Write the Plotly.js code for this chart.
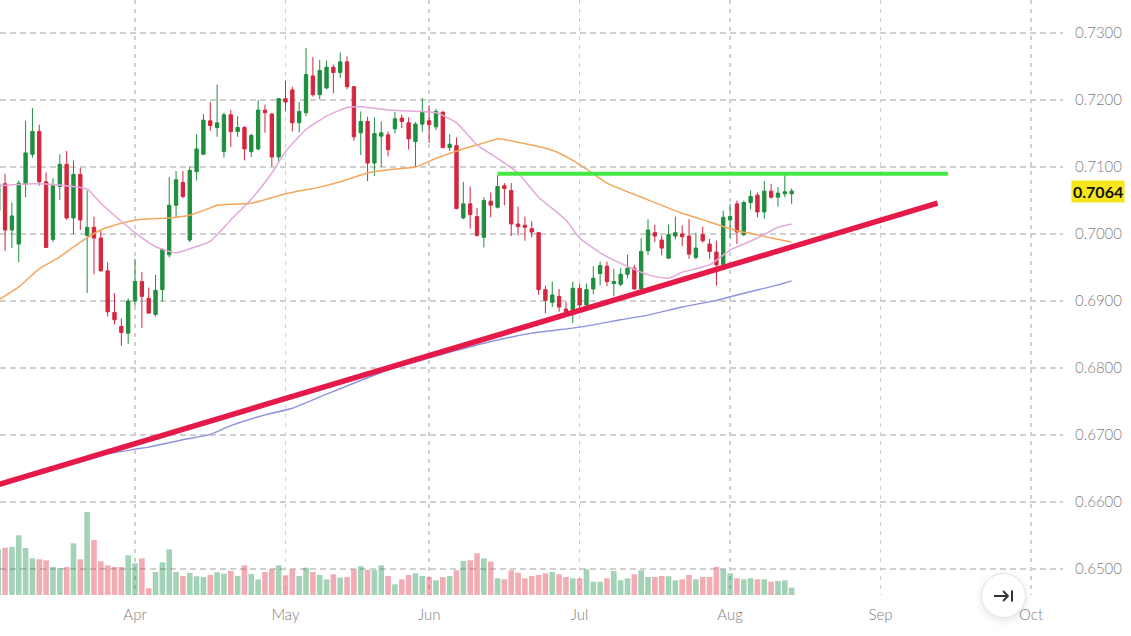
<!DOCTYPE html>
<html>
<head>
<meta charset="utf-8">
<script src="https://cdn.plot.ly/plotly-3.0.1.min.js"></script>
<style>
  html, body { margin: 0; padding: 0; background: #fff; }
  #wrap { position: relative; width: 1131px; height: 636px; }
  #chart { width: 1131px; height: 636px; }
  /* "scroll to latest" round button sitting on the time axis */
  #jump {
    position: absolute; left: 981px; top: 573px; width: 43px; height: 43px;
    border-radius: 50%; background: #fff; border: 1px solid #e4e4e4;
    box-shadow: 0 3px 8px rgba(0,0,0,.10);
    display: flex; align-items: center; justify-content: center;
  }
</style>
</head>
<body>
<div id="wrap">
  <div id="chart"></div>
  <div id="jump">
    <svg width="22" height="14" viewBox="0 0 22 14">
      <path d="M1 7 H15 M10 2 L15 7 L10 12" fill="none" stroke="#333" stroke-width="1.8" stroke-linejoin="round"/>
      <path d="M19 1.5 V12.5" stroke="#333" stroke-width="2"/>
    </svg>
  </div>
</div>
<script>
// daily candles, 2021 (weekdays only)
const dates = [
  '2021-03-04','2021-03-05','2021-03-08','2021-03-09','2021-03-10','2021-03-11','2021-03-12',
  '2021-03-15','2021-03-16','2021-03-17','2021-03-18','2021-03-19','2021-03-22','2021-03-23',
  '2021-03-24','2021-03-25','2021-03-26','2021-03-29','2021-03-30','2021-03-31','2021-04-01',
  '2021-04-02','2021-04-05','2021-04-06','2021-04-07','2021-04-08','2021-04-09','2021-04-12',
  '2021-04-13','2021-04-14','2021-04-15','2021-04-16','2021-04-19','2021-04-20','2021-04-21',
  '2021-04-22','2021-04-23','2021-04-26','2021-04-27','2021-04-28','2021-04-29','2021-04-30',
  '2021-05-03','2021-05-04','2021-05-05','2021-05-06','2021-05-07','2021-05-10','2021-05-11',
  '2021-05-12','2021-05-13','2021-05-14','2021-05-17','2021-05-18','2021-05-19','2021-05-20',
  '2021-05-21','2021-05-24','2021-05-25','2021-05-26','2021-05-27','2021-05-28','2021-05-31',
  '2021-06-01','2021-06-02','2021-06-03','2021-06-04','2021-06-07','2021-06-08','2021-06-09',
  '2021-06-10','2021-06-11','2021-06-14','2021-06-15','2021-06-16','2021-06-17','2021-06-18',
  '2021-06-21','2021-06-22','2021-06-23','2021-06-24','2021-06-25','2021-06-28','2021-06-29',
  '2021-06-30','2021-07-01','2021-07-02','2021-07-05','2021-07-06','2021-07-07','2021-07-08',
  '2021-07-09','2021-07-12','2021-07-13','2021-07-14','2021-07-15','2021-07-16','2021-07-19',
  '2021-07-20','2021-07-21','2021-07-22','2021-07-23','2021-07-26','2021-07-27','2021-07-28',
  '2021-07-29','2021-07-30','2021-08-02','2021-08-03','2021-08-04','2021-08-05','2021-08-06',
  '2021-08-09','2021-08-10','2021-08-11','2021-08-12','2021-08-13'
];
const opens = [
  0.7035,0.7075,0.7006,0.6985,0.7074,0.7119,0.7153,
  0.7078,0.6992,0.7071,0.7104,0.7024,0.7089,0.6998,
  0.7010,0.6994,0.6945,0.6883,0.6862,0.6852,0.6900,
  0.6929,0.6904,0.6880,0.6917,0.6969,0.7043,0.7077,
  0.6991,0.7093,0.7119,0.7169,0.7159,0.7123,0.7178,
  0.7153,0.7159,0.7123,0.7127,0.7185,0.7179,0.7115,
  0.7202,0.7215,0.7166,0.7181,0.7236,0.7208,0.7218,
  0.7249,0.7241,0.7257,0.7220,0.7151,0.7168,0.7106,
  0.7146,0.7148,0.7157,0.7173,0.7166,0.7138,0.7164,
  0.7169,0.7160,0.7182,0.7129,0.7132,0.7024,0.7045,
  0.7026,0.6995,0.7049,0.7040,0.7072,0.7065,0.7015,
  0.7013,0.7008,0.7002,0.6917,0.6898,0.6907,0.6888,
  0.6884,0.6919,0.6894,0.6918,0.6941,0.6952,0.6926,
  0.6925,0.6940,0.6949,0.6918,0.6975,0.7002,0.6991,
  0.6964,0.6997,0.7000,0.6997,0.6965,0.6999,0.6985,
  0.6973,0.6954,0.7021,0.7045,0.6999,0.7047,0.7058,
  0.7033,0.7064,0.7055,0.7060,0.7060
];
const highs = [
  0.7090,0.7090,0.7047,0.7080,0.7169,0.7188,0.7163,
  0.7092,0.7083,0.7119,0.7124,0.7110,0.7099,0.7065,
  0.7026,0.7005,0.6958,0.6912,0.6874,0.6904,0.6963,
  0.6943,0.6920,0.6939,0.6979,0.7085,0.7094,0.7094,
  0.7101,0.7149,0.7179,0.7197,0.7223,0.7181,0.7185,
  0.7176,0.7161,0.7150,0.7200,0.7193,0.7181,0.7203,
  0.7229,0.7220,0.7197,0.7278,0.7264,0.7260,0.7259,
  0.7253,0.7271,0.7265,0.7220,0.7183,0.7175,0.7174,
  0.7168,0.7153,0.7182,0.7178,0.7174,0.7167,0.7203,
  0.7192,0.7187,0.7183,0.7149,0.7144,0.7078,0.7071,
  0.7039,0.7055,0.7062,0.7088,0.7076,0.7076,0.7041,
  0.7026,0.7019,0.7003,0.6923,0.6929,0.6918,0.6899,
  0.6929,0.6926,0.6926,0.6952,0.6959,0.6959,0.6948,
  0.6949,0.6969,0.6954,0.6994,0.7022,0.7014,0.6998,
  0.7014,0.7026,0.7013,0.7022,0.7002,0.7011,0.6993,
  0.6990,0.7035,0.7045,0.7050,0.7050,0.7065,0.7062,
  0.7079,0.7075,0.7070,0.7090,0.7068
];
const lows = [
  0.7000,0.6975,0.6979,0.6958,0.7055,0.7114,0.7072,
  0.6979,0.6988,0.7051,0.7021,0.7000,0.7006,0.6912,
  0.6940,0.6944,0.6877,0.6865,0.6833,0.6836,0.6893,
  0.6860,0.6881,0.6877,0.6899,0.6965,0.7025,0.7053,
  0.6988,0.7080,0.7119,0.7154,0.7145,0.7114,0.7130,
  0.7145,0.7110,0.7115,0.7125,0.7151,0.7101,0.7108,
  0.7184,0.7153,0.7152,0.7176,0.7205,0.7201,0.7216,
  0.7210,0.7233,0.7216,0.7139,0.7118,0.7079,0.7087,
  0.7100,0.7116,0.7150,0.7158,0.7126,0.7100,0.7152,
  0.7136,0.7155,0.7128,0.7124,0.7037,0.7022,0.7008,
  0.6996,0.6980,0.7025,0.7038,0.7043,0.6997,0.6998,
  0.6990,0.6995,0.6909,0.6882,0.6891,0.6884,0.6878,
  0.6867,0.6885,0.6888,0.6910,0.6923,0.6922,0.6907,
  0.6922,0.6934,0.6917,0.6917,0.6969,0.6988,0.6968,
  0.6963,0.6992,0.6982,0.6963,0.6962,0.6987,0.6963,
  0.6923,0.6952,0.6993,0.6985,0.6997,0.7037,0.7025,
  0.7023,0.7053,0.7041,0.7055,0.7045
];
const closes = [
  0.7075,0.7006,0.7027,0.7076,0.7121,0.7153,0.7078,
  0.6980,0.7072,0.7104,0.7024,0.7089,0.7021,0.7010,
  0.6994,0.6945,0.6884,0.6872,0.6853,0.6900,0.6929,
  0.6907,0.6882,0.6916,0.6977,0.7043,0.7081,0.7056,
  0.7095,0.7127,0.7170,0.7162,0.7166,0.7178,0.7153,
  0.7159,0.7127,0.7147,0.7185,0.7181,0.7115,0.7202,
  0.7197,0.7166,0.7183,0.7238,0.7208,0.7244,0.7249,
  0.7241,0.7257,0.7220,0.7145,0.7168,0.7106,0.7150,
  0.7151,0.7126,0.7172,0.7168,0.7142,0.7164,0.7183,
  0.7163,0.7183,0.7129,0.7134,0.7038,0.7045,0.7029,
  0.6998,0.7050,0.7043,0.7071,0.7068,0.7015,0.7011,
  0.7010,0.7003,0.6917,0.6901,0.6909,0.6891,0.6884,
  0.6919,0.6894,0.6917,0.6934,0.6953,0.6929,0.6929,
  0.6940,0.6949,0.6918,0.6974,0.7006,0.6997,0.6979,
  0.6999,0.7002,0.6996,0.6970,0.6979,0.6990,0.6974,
  0.6954,0.7025,0.7026,0.7003,0.7047,0.7056,0.7033,
  0.7064,0.7055,0.7061,0.7063,0.7064
];
const volumes = [
  45.7,47.3,48.0,59.7,47.0,36.7,35.7,
  34.7,28.0,27.0,28.0,51.7,35.7,83.0,
  55.0,33.7,29.7,28.0,28.0,39.7,31.7,
  36.7,6.7,23.0,32.7,45.7,23.0,19.0,
  22.0,18.7,18.0,20.0,22.7,21.3,24.0,
  19.0,29.7,21.0,15.7,23.0,25.7,29.7,
  19.7,25.7,19.0,27.3,23.0,20.0,15.7,
  20.7,17.3,18.0,25.7,28.7,25.0,25.0,
  29.7,19.0,10.7,15.7,20.0,21.7,19.0,
  18.0,14.7,18.0,19.0,24.7,34.0,34.7,
  41.7,36.7,33.3,16.7,15.7,24.7,22.3,
  16.7,19.0,20.0,21.7,23.0,20.7,18.0,
  16.7,16.7,25.7,13.3,13.3,16.7,24.0,
  14.7,16.7,20.7,24.7,18.0,18.0,19.0,
  18.7,14.7,15.7,20.0,15.7,18.0,18.0,
  28.0,25.7,21.7,16.7,15.7,16.7,15.7,
  15.7,13.3,14.0,14.7,7.3
];

// moving averages at sample days
const maFastDates = ['2021-03-04','2021-03-11','2021-03-17','2021-03-23','2021-03-25','2021-03-30','2021-04-01',
  '2021-04-06','2021-04-09','2021-04-13','2021-04-16','2021-04-21','2021-04-26','2021-04-29','2021-05-03',
  '2021-05-06','2021-05-11','2021-05-14','2021-05-18','2021-05-24','2021-06-02','2021-06-07','2021-06-10',
  '2021-06-15','2021-06-18','2021-06-23','2021-06-29','2021-07-01','2021-07-06','2021-07-08','2021-07-15',
  '2021-07-20','2021-07-22','2021-07-28','2021-08-02','2021-08-06','2021-08-11','2021-08-13'];
const maFastVals = [0.7072,0.7075,0.7073,0.7067,0.7046,0.7019,0.7002,
  0.6981,0.6972,0.6978,0.6989,0.7021,0.7052,0.7091,0.7123,
  0.7156,0.7176,0.7189,0.7190,0.7185,0.7181,0.7166,0.7133,
  0.7113,0.7091,0.7055,0.7021,0.6994,0.6972,0.6961,0.6939,
  0.6934,0.6943,0.6954,0.6976,0.6994,0.7010,0.7015];

const maMidDates = ['2021-03-04','2021-03-09','2021-03-12','2021-03-17','2021-03-22','2021-03-25','2021-03-30',
  '2021-04-02','2021-04-08','2021-04-13','2021-04-16','2021-04-19','2021-04-26','2021-05-03','2021-05-10',
  '2021-05-13','2021-05-19','2021-05-24','2021-05-28','2021-06-02','2021-06-08','2021-06-11','2021-06-15',
  '2021-06-18','2021-06-25','2021-06-30','2021-07-02','2021-07-07','2021-07-15','2021-07-22','2021-07-28',
  '2021-08-03','2021-08-06','2021-08-10','2021-08-13'];
const maMidVals = [0.6901,0.6921,0.6948,0.6966,0.6988,0.7006,0.7016,
  0.7022,0.7024,0.7028,0.7039,0.7043,0.7046,0.7060,0.7070,
  0.7078,0.7091,0.7096,0.7100,0.7113,0.7127,0.7136,0.7142,
  0.7137,0.7125,0.7110,0.7097,0.7076,0.7051,0.7031,0.7018,
  0.7005,0.6999,0.6994,0.6988];

const maSlowDates = ['2021-03-22','2021-03-24','2021-04-01','2021-04-05','2021-04-12','2021-04-16','2021-04-21',
  '2021-04-28','2021-05-04','2021-05-11','2021-05-24','2021-06-01','2021-06-11','2021-06-22','2021-07-01',
  '2021-07-09','2021-07-15','2021-07-22','2021-07-29','2021-08-03','2021-08-11','2021-08-13'];
const maSlowVals = [0.6660,0.6668,0.6679,0.6682,0.6693,0.6701,0.6714,
  0.6730,0.6740,0.6761,0.6797,0.6815,0.6837,0.6852,0.6861,
  0.6872,0.6879,0.6891,0.6901,0.6909,0.6924,0.6930];

// hand-drawn lines: rising support and horizontal resistance
const supportDates = ['2021-03-03 12:00', '2021-09-13 20:00'];
const supportVals = [0.6623, 0.7046];
const resistDates = ['2021-06-15 12:00', '2021-09-15 08:30'];
const resistVals = [0.7090, 0.7090];

const monthTicks = ['2021-04-01','2021-05-03','2021-06-01','2021-07-01','2021-08-02','2021-09-01','2021-10-01'];
const monthLabels = ['Apr','May','Jun','Jul','Aug','Sep','Oct'];

const UP = '#1f8e3e', DOWN = '#d3263f';
const noon = (d) => d + ' 12:00';   // centre each day so weekend breaks don't clip Monday bodies
const txt = { family: 'Lato, "Open Sans", sans-serif', size: 15, color: '#808080', weight: 300 };

const volColors = closes.map((c, i) => c >= opens[i] ? 'rgba(34,150,80,.42)' : 'rgba(226,70,88,.45)');

const traces = [
  { type: 'bar', x: dates.map(noon), y: volumes, yaxis: 'y2',
    marker: { color: volColors, line: { width: 0 } }, hoverinfo: 'skip' },
  { type: 'scatter', mode: 'lines', x: maSlowDates.map(noon), y: maSlowVals,
    line: { color: '#8f93de', width: 1.4, shape: 'spline', smoothing: 0.5 }, hoverinfo: 'skip' },
  { type: 'scatter', mode: 'lines', x: maMidDates.map(noon), y: maMidVals,
    line: { color: '#f2a75c', width: 1.5, shape: 'spline', smoothing: 0.5 }, hoverinfo: 'skip' },
  { type: 'scatter', mode: 'lines', x: maFastDates.map(noon), y: maFastVals,
    line: { color: '#e3a8da', width: 1.5, shape: 'spline', smoothing: 0.5 }, hoverinfo: 'skip' },
  { type: 'candlestick', x: dates.map(noon), open: opens, high: highs, low: lows, close: closes,
    increasing: { line: { color: UP, width: 1 }, fillcolor: UP },
    decreasing: { line: { color: DOWN, width: 1 }, fillcolor: DOWN },
    whiskerwidth: 0, hoverinfo: 'skip' },
  { type: 'scatter', mode: 'lines', x: supportDates, y: supportVals,
    line: { color: '#e6194b', width: 5.5 }, hoverinfo: 'skip' },
  { type: 'scatter', mode: 'lines', x: resistDates, y: resistVals,
    line: { color: '#43e843', width: 4 }, hoverinfo: 'skip' }
];

const lastClose = closes[closes.length - 1];

const layout = {
  width: 1131, height: 636,
  margin: { l: 0, r: 68, t: 0, b: 41 },
  paper_bgcolor: '#fff', plot_bgcolor: '#fff',
  showlegend: false, bargap: 0.18,
  font: txt,
  xaxis: {
    type: 'date',
    range: ['2021-03-04 18:14', '2021-10-08 04:05'],
    rangebreaks: [{ bounds: ['sat', 'mon'] }],
    rangeslider: { visible: false },
    tickmode: 'array', tickvals: monthTicks.map(noon), ticktext: monthLabels,
    showgrid: true, gridcolor: '#cfcfcf', gridwidth: 1.5, griddash: '4px,5px',
    ticks: '', ticklabelstandoff: 9, tickfont: txt,
    zeroline: false, showline: false, fixedrange: true
  },
  yaxis: {
    side: 'right', range: [0.64612, 0.73493],
    tick0: 0.65, dtick: 0.01, tickformat: '.4f',
    showgrid: true, gridcolor: '#cfcfcf', gridwidth: 1.5, griddash: '6px,4px',
    ticks: '', ticklabelstandoff: 11, tickfont: txt,
    zeroline: false, showline: false, fixedrange: true
  },
  yaxis2: {
    overlaying: 'y', range: [0, 595], visible: false, fixedrange: true
  },
  annotations: [{
    xref: 'paper', x: 1, xanchor: 'left', xshift: 8,
    yref: 'y', y: lastClose, yanchor: 'middle',
    text: '<b>' + lastClose.toFixed(4) + '</b>', showarrow: false,
    font: { family: 'Lato, "Open Sans", sans-serif', size: 16, color: '#111' },
    bgcolor: '#f6e71c', borderpad: 1
  }]
};

Plotly.newPlot('chart', traces, layout, { displayModeBar: false, staticPlot: true });
</script>
</body>
</html>
